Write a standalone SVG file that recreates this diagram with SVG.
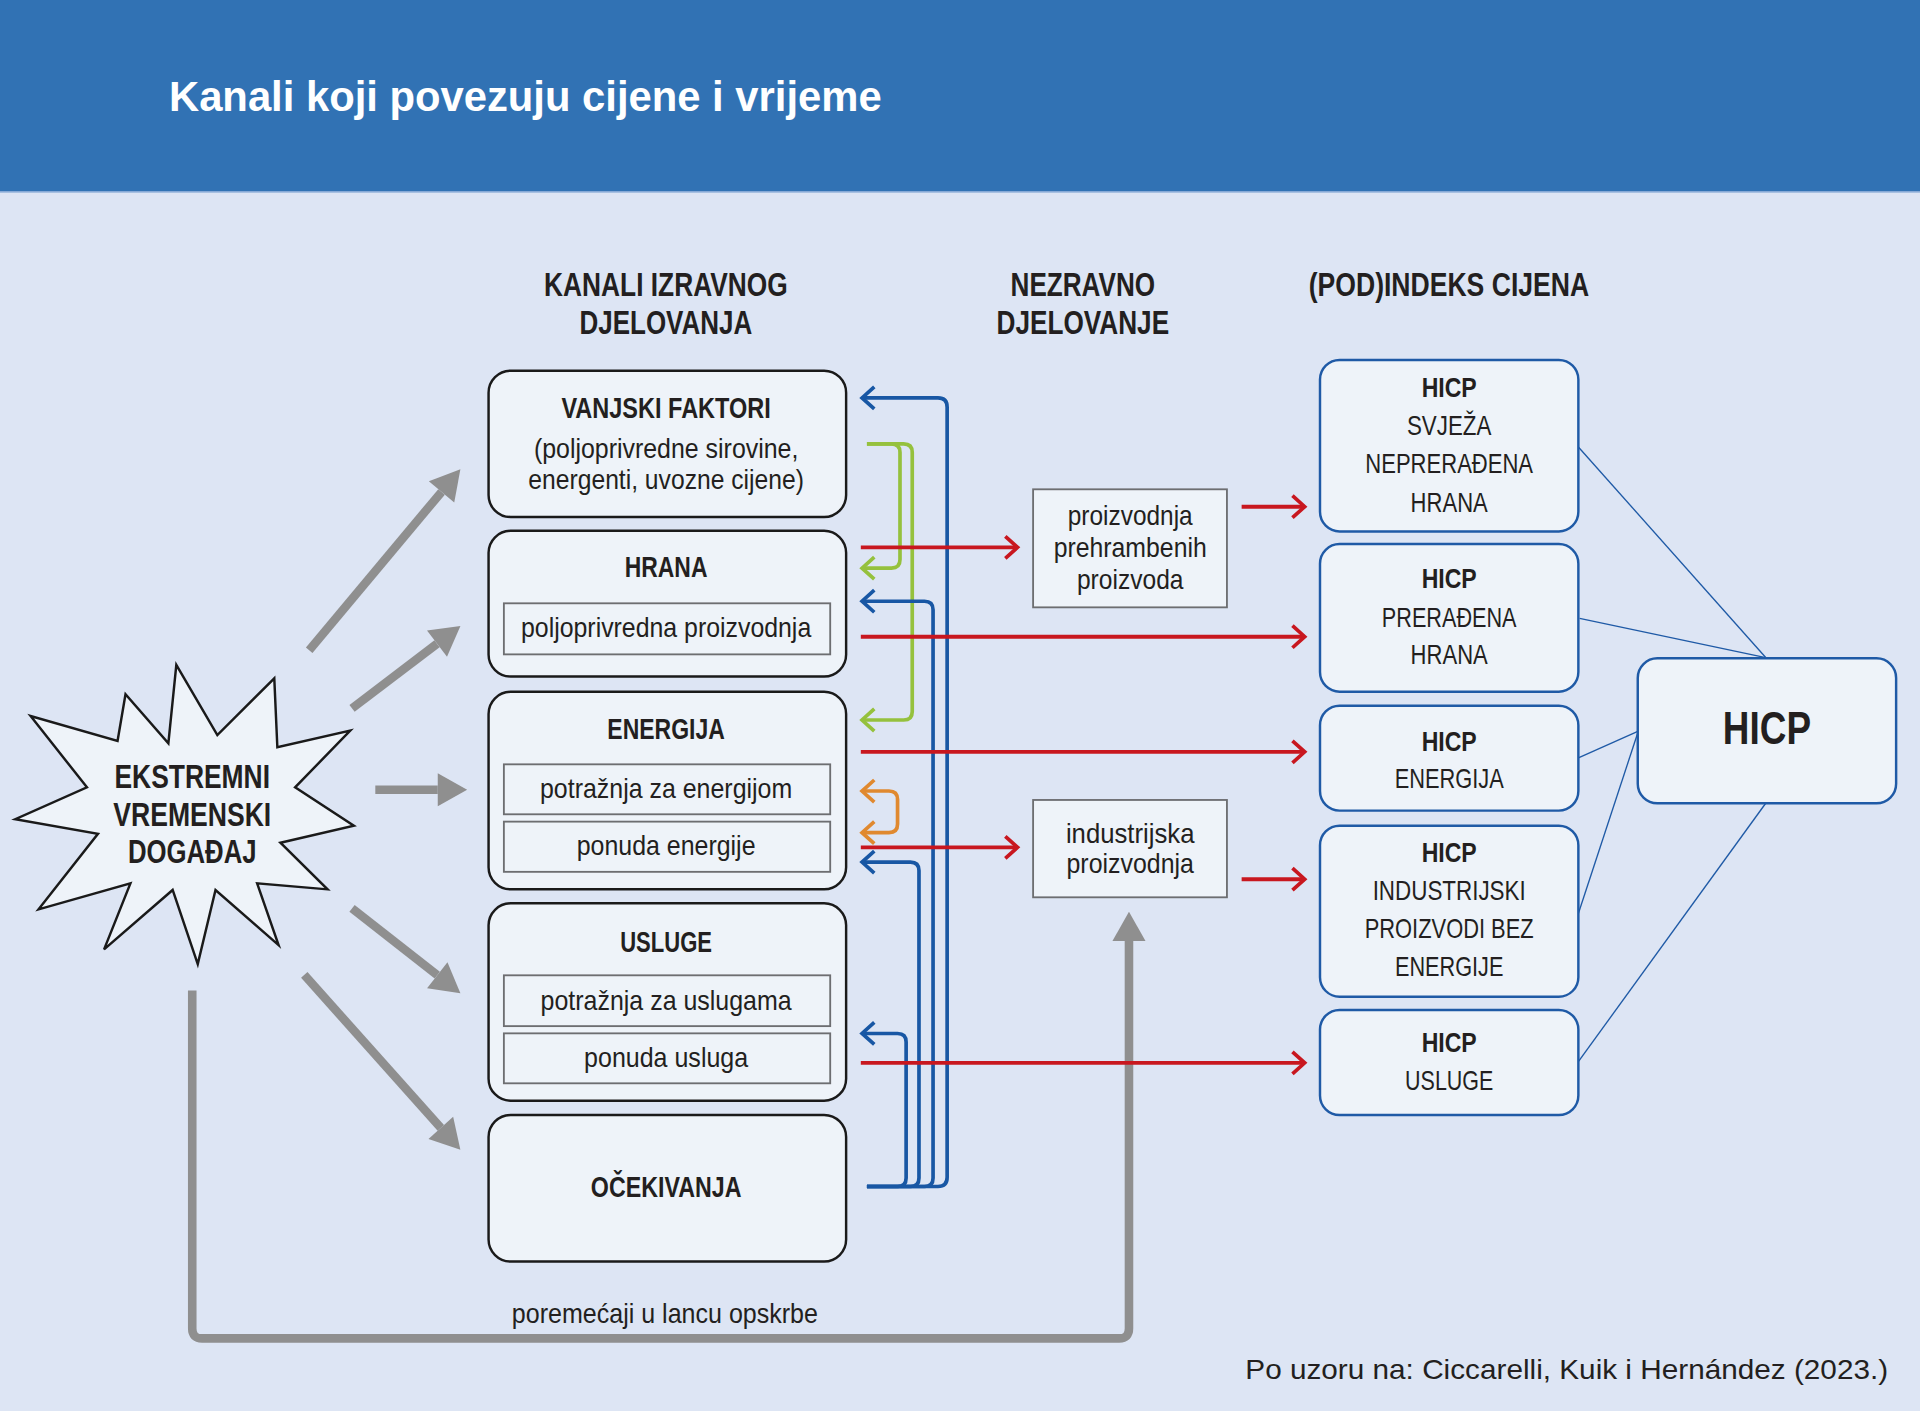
<svg xmlns="http://www.w3.org/2000/svg" width="1920" height="1411" viewBox="0 0 1920 1411">
<defs>
<style>
.t{font-family:"Liberation Sans",Arial,Helvetica,sans-serif;fill:#231f20}
.h{font-size:27px;font-weight:bold}
.bt{font-size:24px;font-weight:bold}
.s{font-size:22px}
.r{font-size:23px}
.rb{font-size:23px;font-weight:bold}
.lbox{fill:#eef3f9;stroke:#1a1a1a;stroke-width:2}
.ibox{fill:#eef3f9;stroke:#6d6e71;stroke-width:1.5}
.rbox{fill:#eef3f9;stroke:#1f5aa6;stroke-width:2}
.red{fill:none;stroke:#c8171f;stroke-width:3.2;marker-end:url(#aRed)}
.blue{fill:none;stroke:#1857a4;stroke-width:3;marker-end:url(#aBlue)}
.green{fill:none;stroke:#95c13d;stroke-width:3;marker-end:url(#aGreen)}
.orange{fill:none;stroke:#e0892f;stroke-width:3;marker-start:url(#aOrange);marker-end:url(#aOrange)}
.grey{fill:none;stroke:#8f8f8f;stroke-width:7;marker-end:url(#aGrey)}
.thin{fill:none;stroke:#1f5aa6;stroke-width:1.1}
</style>
<marker id="aRed" markerUnits="userSpaceOnUse" markerWidth="14" markerHeight="22" refX="11" refY="10" orient="auto" overflow="visible"><path d="M1,1 L11,10 L1,19" fill="none" stroke="#c8171f" stroke-width="3"/></marker>
<marker id="aBlue" markerUnits="userSpaceOnUse" markerWidth="14" markerHeight="22" refX="11" refY="10" orient="auto" overflow="visible"><path d="M1,1 L11,10 L1,19" fill="none" stroke="#1857a4" stroke-width="3"/></marker>
<marker id="aGreen" markerUnits="userSpaceOnUse" markerWidth="14" markerHeight="22" refX="11" refY="10" orient="auto" overflow="visible"><path d="M1,1 L11,10 L1,19" fill="none" stroke="#95c13d" stroke-width="3"/></marker>
<marker id="aOrange" markerUnits="userSpaceOnUse" markerWidth="14" markerHeight="22" refX="11" refY="10" orient="auto-start-reverse" overflow="visible"><path d="M1,1 L11,10 L1,19" fill="none" stroke="#e0892f" stroke-width="3"/></marker>
<marker id="aGrey" markerUnits="userSpaceOnUse" markerWidth="24" markerHeight="27" refX="0" refY="13.5" orient="auto" overflow="visible"><path d="M0,0 L24,13.5 L0,27 z" fill="#8f8f8f"/></marker>
</defs>
<rect x="0" y="0" width="1920" height="1411" fill="#dde5f4"/>
<g transform="scale(1.22449)">
<rect x="0" y="0" width="1568" height="157" fill="#3172b4"/>
<line x1="0" y1="156.5" x2="1568" y2="156.5" stroke="#86a9d6" stroke-width="1"/>
<text class="t" x="138" y="90.6" font-size="34" font-weight="bold" fill="#ffffff" style="fill:#ffffff" textLength="582" lengthAdjust="spacingAndGlyphs">Kanali koji povezuju cijene i vrijeme</text>

<g id="headings" class="t h" text-anchor="middle">
<text x="543.8" y="241.7" textLength="199" lengthAdjust="spacingAndGlyphs">KANALI IZRAVNOG</text>
<text x="543.8" y="272.8" textLength="141" lengthAdjust="spacingAndGlyphs">DJELOVANJA</text>
<text x="884.3" y="241.7" textLength="118" lengthAdjust="spacingAndGlyphs">NEZRAVNO</text>
<text x="884.3" y="272.8" textLength="141" lengthAdjust="spacingAndGlyphs">DJELOVANJE</text>
<text x="1183.3" y="241.7" textLength="229" lengthAdjust="spacingAndGlyphs">(POD)INDEKS CIJENA</text>
</g>

<g id="connectors">
<path class="thin" d="M1289,365 L1442,537"/>
<path class="thin" d="M1290,505 L1442,537"/>
<path class="thin" d="M1289,619 L1338,597"/>
<path class="thin" d="M1289,746 L1338,597"/>
<path class="thin" d="M1289,867 L1442,656"/>
<path class="grey" d="M252.5,531 L360.6,401.7"/>
<path class="grey" d="M287.5,578.5 L356.9,525.7"/>
<path class="grey" d="M306.5,645 L357.5,645"/>
<path class="grey" d="M287.5,741.8 L357.1,796.4"/>
<path class="grey" d="M248.5,796.2 L360,921.1"/>
<path class="grey" d="M157,809 V1085 Q157,1093 165,1093 H914 Q922,1093 922,1085 V768.5"/>
<path class="green" d="M708,362.5 H728 Q735,362.5 735,369.5 V457 Q735,464 728,464 H704"/>
<path class="green" d="M708,362.5 H738 Q745,362.5 745,369.5 V581 Q745,588 738,588 H704"/>
<path class="blue" d="M708,969 H766 Q773.5,969 773.5,961.5 V332.5 Q773.5,325 766,325 H704"/>
<path class="blue" d="M708,969 H755 Q762,969 762,962 V498 Q762,491 755,491 H704"/>
<path class="blue" d="M708,969 H743.5 Q750.5,969 750.5,962 V711 Q750.5,704 743.5,704 H704"/>
<path class="blue" d="M708,969 H733 Q740,969 740,962 V851 Q740,844 733,844 H704"/>
<path class="orange" d="M704,646 H726 Q733,646 733,653 V673 Q733,680 726,680 H704"/>
<path class="red" d="M703,447 H831"/>
<path class="red" d="M1014,413.8 H1065.5"/>
<path class="red" d="M703,520 H1065.5"/>
<path class="red" d="M703,614 H1065.5"/>
<path class="red" d="M703,692 H831"/>
<path class="red" d="M1014,718 H1065.5"/>
<path class="red" d="M703,868 H1065.5"/>
</g>

<g id="node-event">
<polygon points="144,543 177.5,600.3 224,554 226.5,610.3 286,596.7 241,643 289,674.3 229,688.2 267.5,726.3 210,721.4 227.5,771.8 176,726.8 161.5,787.3 141,726.8 85,775.3 106.5,721.4 31.5,742.6 80,681 12.5,669 71,643 25,584.7 96,605.1 102.5,567 137.5,607" fill="#eef3f9" stroke="#1a1a1a" stroke-width="2" stroke-linejoin="miter"/>
<g class="t h" text-anchor="middle">
<text x="157" y="643.3" textLength="127" lengthAdjust="spacingAndGlyphs">EKSTREMNI</text>
<text x="157" y="674.3" textLength="129" lengthAdjust="spacingAndGlyphs">VREMENSKI</text>
<text x="157" y="705" textLength="105" lengthAdjust="spacingAndGlyphs">DOGAĐAJ</text>
</g>
</g>

<g id="node-vanjski">
<rect class="lbox" x="399" y="302.7" width="292" height="119.5" rx="18"/>
<text class="t bt" x="544" y="341.6" text-anchor="middle" textLength="171" lengthAdjust="spacingAndGlyphs">VANJSKI FAKTORI</text>
<text class="t s" x="544" y="374.3" text-anchor="middle" textLength="216" lengthAdjust="spacingAndGlyphs">(poljoprivredne sirovine,</text>
<text class="t s" x="544" y="399" text-anchor="middle" textLength="225" lengthAdjust="spacingAndGlyphs">energenti, uvozne cijene)</text>
</g>

<g id="node-hrana">
<rect class="lbox" x="399" y="433.5" width="292" height="119" rx="18"/>
<text class="t bt" x="544" y="471.5" text-anchor="middle" textLength="67.5" lengthAdjust="spacingAndGlyphs">HRANA</text>
<rect class="ibox" x="411.5" y="492.7" width="266.5" height="41.7"/>
<text class="t s" x="544" y="520" text-anchor="middle" textLength="237" lengthAdjust="spacingAndGlyphs">poljoprivredna proizvodnja</text>
</g>

<g id="node-energija">
<rect class="lbox" x="399" y="565" width="292" height="161.3" rx="18"/>
<text class="t bt" x="544" y="603.8" text-anchor="middle" textLength="96" lengthAdjust="spacingAndGlyphs">ENERGIJA</text>
<rect class="ibox" x="411.5" y="624.2" width="266.5" height="40.8"/>
<text class="t s" x="544" y="652" text-anchor="middle" textLength="206" lengthAdjust="spacingAndGlyphs">potražnja za energijom</text>
<rect class="ibox" x="411.5" y="671" width="266.5" height="41"/>
<text class="t s" x="544" y="698.2" text-anchor="middle" textLength="146" lengthAdjust="spacingAndGlyphs">ponuda energije</text>
</g>

<g id="node-usluge">
<rect class="lbox" x="399" y="737.7" width="292" height="161.2" rx="18"/>
<text class="t bt" x="544" y="777.7" text-anchor="middle" textLength="75" lengthAdjust="spacingAndGlyphs">USLUGE</text>
<rect class="ibox" x="411.5" y="796.5" width="266.5" height="41.5"/>
<text class="t s" x="544" y="824.8" text-anchor="middle" textLength="205" lengthAdjust="spacingAndGlyphs">potražnja za uslugama</text>
<rect class="ibox" x="411.5" y="843.9" width="266.5" height="40.8"/>
<text class="t s" x="544" y="871" text-anchor="middle" textLength="134" lengthAdjust="spacingAndGlyphs">ponuda usluga</text>
</g>

<g id="node-ocekivanja">
<rect class="lbox" x="399" y="910.6" width="292" height="119.7" rx="18"/>
<text class="t bt" x="544" y="977.8" text-anchor="middle" textLength="123" lengthAdjust="spacingAndGlyphs">OČEKIVANJA</text>
</g>

<g id="node-prehrambeni">
<rect class="ibox" x="843.7" y="399.6" width="158.3" height="96.4"/>
<g class="t s" text-anchor="middle">
<text x="923" y="428.7" textLength="102" lengthAdjust="spacingAndGlyphs">proizvodnja</text>
<text x="923" y="454.6" textLength="125" lengthAdjust="spacingAndGlyphs">prehrambenih</text>
<text x="923" y="481.3" textLength="87" lengthAdjust="spacingAndGlyphs">proizvoda</text>
</g>
</g>

<g id="node-industrijska">
<rect class="ibox" x="843.7" y="653.3" width="158.3" height="79.5"/>
<g class="t s" text-anchor="middle">
<text x="923" y="688.2" textLength="105" lengthAdjust="spacingAndGlyphs">industrijska</text>
<text x="923" y="713.2" textLength="104" lengthAdjust="spacingAndGlyphs">proizvodnja</text>
</g>
</g>

<g id="node-hicp-svjeza">
<rect class="rbox" x="1078" y="294" width="211" height="140" rx="16"/>
<g class="t" text-anchor="middle">
<text class="rb" x="1183.5" y="324.5" textLength="45" lengthAdjust="spacingAndGlyphs">HICP</text>
<text class="r" x="1183.5" y="355.2" textLength="69" lengthAdjust="spacingAndGlyphs">SVJEŽA</text>
<text class="r" x="1183.5" y="386.6" textLength="137" lengthAdjust="spacingAndGlyphs">NEPRERAĐENA</text>
<text class="r" x="1183.5" y="417.9" textLength="63" lengthAdjust="spacingAndGlyphs">HRANA</text>
</g>
</g>

<g id="node-hicp-preradena">
<rect class="rbox" x="1078" y="444.3" width="211" height="120.6" rx="16"/>
<g class="t" text-anchor="middle">
<text class="rb" x="1183.5" y="480.5" textLength="45" lengthAdjust="spacingAndGlyphs">HICP</text>
<text class="r" x="1183.5" y="511.8" textLength="110" lengthAdjust="spacingAndGlyphs">PRERAĐENA</text>
<text class="r" x="1183.5" y="542.5" textLength="63" lengthAdjust="spacingAndGlyphs">HRANA</text>
</g>
</g>

<g id="node-hicp-energija">
<rect class="rbox" x="1078" y="576.3" width="211" height="85.7" rx="16"/>
<g class="t" text-anchor="middle">
<text class="rb" x="1183.5" y="613" textLength="45" lengthAdjust="spacingAndGlyphs">HICP</text>
<text class="r" x="1183.5" y="643.8" textLength="89" lengthAdjust="spacingAndGlyphs">ENERGIJA</text>
</g>
</g>

<g id="node-hicp-industrijski">
<rect class="rbox" x="1078" y="674.3" width="211" height="139.7" rx="16"/>
<g class="t" text-anchor="middle">
<text class="rb" x="1183.5" y="704.2" textLength="45" lengthAdjust="spacingAndGlyphs">HICP</text>
<text class="r" x="1183.5" y="735" textLength="125" lengthAdjust="spacingAndGlyphs">INDUSTRIJSKI</text>
<text class="r" x="1183.5" y="765.8" textLength="138" lengthAdjust="spacingAndGlyphs">PROIZVODI BEZ</text>
<text class="r" x="1183.5" y="797" textLength="88.5" lengthAdjust="spacingAndGlyphs">ENERGIJE</text>
</g>
</g>

<g id="node-hicp-usluge">
<rect class="rbox" x="1078" y="824.8" width="211" height="85.8" rx="16"/>
<g class="t" text-anchor="middle">
<text class="rb" x="1183.5" y="859.4" textLength="45" lengthAdjust="spacingAndGlyphs">HICP</text>
<text class="r" x="1183.5" y="890.2" textLength="72" lengthAdjust="spacingAndGlyphs">USLUGE</text>
</g>
</g>

<g id="node-hicp">
<rect class="rbox" x="1337.5" y="537.6" width="211" height="118.4" rx="16"/>
<text class="t" x="1443" y="607.9" font-size="38" font-weight="bold" text-anchor="middle" textLength="72" lengthAdjust="spacingAndGlyphs">HICP</text>
</g>

<text class="t s" x="543" y="1080.2" text-anchor="middle" textLength="250" lengthAdjust="spacingAndGlyphs">poremećaji u lancu opskrbe</text>
<text class="t s" x="1542" y="1126.4" text-anchor="end" textLength="525" lengthAdjust="spacingAndGlyphs">Po uzoru na: Ciccarelli, Kuik i Hernández (2023.)</text>
</g>
</svg>
